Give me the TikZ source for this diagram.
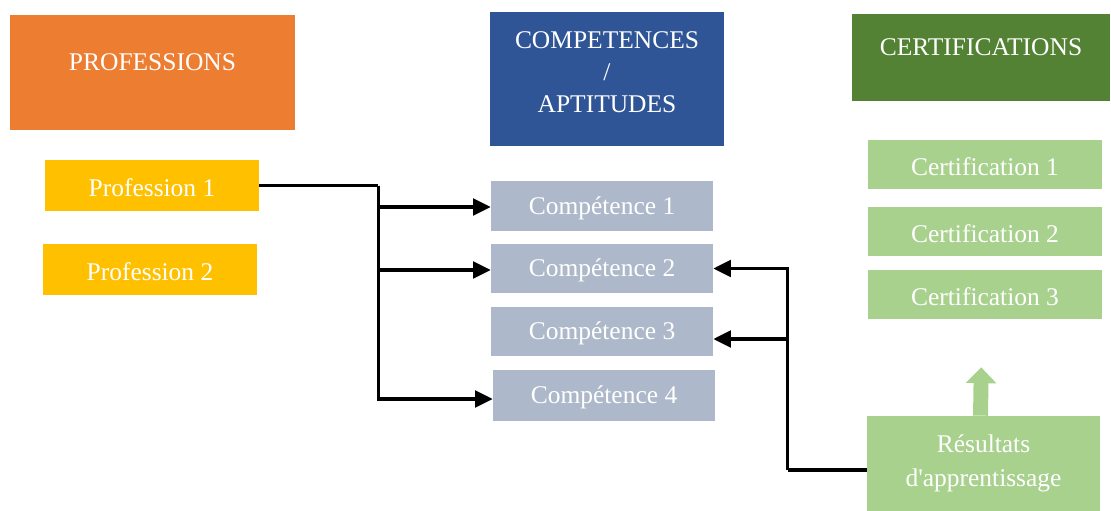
\documentclass[tikz,border=0pt]{standalone}
\usepackage{fontspec}
\setmainfont{Liberation Serif}
\usepackage{tikz}
\definecolor{orangeprof}{HTML}{ED7D31}
\definecolor{bleucomp}{HTML}{2F5597}
\definecolor{vertcert}{HTML}{548235}
\definecolor{jaune}{HTML}{FFC000}
\definecolor{gris}{HTML}{ADB9CA}
\definecolor{vertclair}{HTML}{A9D18E}
\usetikzlibrary{arrows.meta,calc}
\tikzset{boite/.style={
    inner sep=0pt,
    text=white,
    align=center,
    font=\fontsize{14.5}{18}\selectfont},
  case/.style={
    boite,
    text height=12.5pt},
  lien/.style={
    line width=1.8pt,
    -{Triangle[length=10pt,width=9.5pt]}}}

\begin{document}
\begin{tikzpicture}[x=0.02cm, y=-0.02cm]

\useasboundingbox (0,0) rectangle (1111,510);

% en-tetes
\node[case,
  fill=orangeprof,
  text depth=14.5pt,
  minimum width=5.7cm,
  minimum height=2.3cm] (hprof) at (152.5,72.5) {PROFESSIONS};

\node[boite,
  fill=bleucomp,
  text depth=8pt,
  minimum width=4.68cm,
  minimum height=2.68cm] (hcomp) at (607,79) {COMPETENCES\\/\\APTITUDES};

\node[case,
  fill=vertcert,
  text depth=14.5pt,
  minimum width=5.16cm,
  minimum height=1.74cm] (hcert) at (981,57.5) {CERTIFICATIONS};

% professions
\node[case,
  fill=jaune,
  minimum width=4.28cm,
  minimum height=1.02cm] (prof1) at (152,185.5) {Profession 1};

\node[case,
  fill=jaune,
  minimum width=4.28cm,
  minimum height=1.02cm] (prof2) at (150,269.5) {Profession 2};

% competences
\node[case,
  fill=gris,
  minimum width=4.44cm,
  minimum height=1cm] (comp1) at (602,206) {Compétence 1};

\node[case,
  fill=gris,
  minimum width=4.44cm,
  minimum height=0.98cm] (comp2) at (602,268.5) {Compétence 2};

\node[case,
  fill=gris,
  minimum width=4.44cm,
  minimum height=0.98cm] (comp3) at (602,331.5) {Compétence 3};

\node[case,
  fill=gris,
  minimum width=4.44cm,
  minimum height=1.02cm] (comp4) at (604,395.5) {Compétence 4};

% certifications
\node[case,
  fill=vertclair,
  minimum width=4.68cm,
  minimum height=0.98cm] (cert1) at (985,164.5) {Certification 1};

\node[case,
  fill=vertclair,
  minimum width=4.68cm,
  minimum height=0.98cm] (cert2) at (985,231.5) {Certification 2};

\node[case,
  fill=vertclair,
  minimum width=4.68cm,
  minimum height=0.98cm] (cert3) at (985,294.5) {Certification 3};

\node[boite,
  fill=vertclair,
  minimum width=4.66cm,
  minimum height=1.9cm,
  font=\fontsize{14.5}{19.5}\selectfont] (res) at (983.5,463.5) {Résultats\\d\textquotesingle apprentissage};

% liens professions -> competences
\coordinate (split) at ($(prof1.east)+(119,0)$);
\draw[line width=1.8pt] (prof1.east) -- (split);
\draw[lien] (split) |- ($(comp1.west)+(0,1)$);
\draw[lien] (split) |- ($(comp2.west)+(0,1.5)$);
\draw[lien] (split) |- ($(comp4.west)+(0,3.5)$);

% liens resultats -> competences
\coordinate (retour) at ($(res.west)+(-79,6.5)$);
\draw[line width=1.8pt] ($(res.west)+(0,6.5)$) -- (retour);
\draw[lien] (retour) |- (comp2.east);
\draw[lien] (retour) |- ($(comp3.east)+(0,7.5)$);

% fleche vers certifications
\draw[vertclair,
  line width=8.5pt,
  -{Triangle[length=9pt,width=17pt]},
  shorten >=0.96cm] ($(res.north)+(-3,0)$) -- ($(cert3.south)+(-3,0)$);

\end{tikzpicture}
\end{document}
